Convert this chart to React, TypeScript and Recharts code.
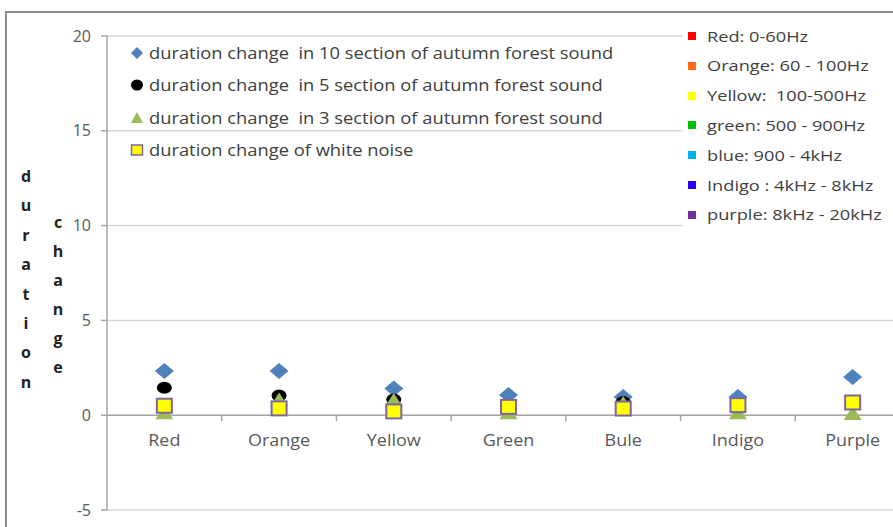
import React from 'react';
import { ScatterChart, Scatter, XAxis, YAxis, CartesianGrid, ReferenceLine, ReferenceDot } from 'recharts';

const categories = ['Red', 'Orange', 'Yellow', 'Green', 'Bule', 'Indigo', 'Purple'];
const tenSection = [2.33, 2.33, 1.41, 1.06, 0.96, 0.96, 2.02];
const fiveSection = [1.45, 1.04, 0.83, 0.5, 0.7, 0.55, 0.6];
const threeSection = [0.15, 0.83, 0.8, 0.15, 0.65, 0.15, 0.12];
const whiteNoise = [0.5, 0.36, 0.2, 0.44, 0.35, 0.53, 0.67];
const yTicks = [-5, 0, 5, 10, 15, 20];

const seriesNames = [
  'duration change  in 10 section of autumn forest sound',
  'duration change  in 5 section of autumn forest sound',
  'duration change  in 3 section of autumn forest sound',
  'duration change of white noise',
];
const bandLabels = [
  'Red: 0-60Hz',
  'Orange: 60 - 100Hz',
  'Yellow:  100-500Hz',
  'green: 500 - 900Hz',
  'blue: 900 - 4kHz',
  'Indigo : 4kHz - 8kHz',
  'purple: 8kHz - 20kHz',
];
const bandColors = ['#FF0000', '#FF6A13', '#FFFF00', '#00C000', '#00B0F0', '#2B00FF', '#7030A0'];
const yTitle1 = 'duration';
const yTitle2 = 'change';

const toPoints = (vals: number[]) => vals.map((y, i) => ({ x: i, y, name: categories[i] }));
const boundaries = categories.slice(1).map((_, i) => i + 0.5);

const FONT = "'Open Sans', sans-serif";

const Diamond = (p: any) => (
  <polygon
    points={`${p.cx},${p.cy - 8} ${p.cx + 9.5},${p.cy} ${p.cx},${p.cy + 8} ${p.cx - 9.5},${p.cy}`}
    fill="#4F81BD"
  />
);
const Dot = (p: any) => <ellipse cx={p.cx} cy={p.cy} rx={7.5} ry={6} fill="#000000" />;
const Tri = (p: any) => (
  <polygon
    points={`${p.cx},${p.cy - 7} ${p.cx + 9},${p.cy + 7} ${p.cx - 9},${p.cy + 7}`}
    fill="#9BBB59"
  />
);
const Sq = (p: any) => (
  <rect x={p.cx - 7.5} y={p.cy - 7} width={15} height={14} fill="#FFFF00" stroke="#8064A2" strokeWidth={2} />
);
const TickMark = (p: any) => <line x1={p.cx} y1={p.cy} x2={p.cx} y2={p.cy + 6} stroke="#a6a6a6" strokeWidth={1.5} />;

const LegendIcon = ({ i }: { i: number }) => (
  <svg width={14} height={14} style={{ display: 'block' }}>
    {i === 0 && <polygon points="7,1 13,7 7,13 1,7" fill="#4F81BD" />}
    {i === 1 && <ellipse cx={7} cy={7} rx={6} ry={5.5} fill="#000" />}
    {i === 2 && <polygon points="7,1 13,12 1,12" fill="#9BBB59" />}
    {i === 3 && <rect x={1.5} y={2} width={11} height={10} fill="#FFFF00" stroke="#8064A2" strokeWidth={1.5} />}
  </svg>
);

export default function App() {
  return (
    <div style={{ position: 'absolute', left: 0, top: 0, width: 893, height: 527, overflow: 'hidden', background: '#fff' }}>
      <ScatterChart width={893} height={527} margin={{ top: 36, right: -17, bottom: 17, left: 47 }}>
        <CartesianGrid vertical={false} stroke="#d9d9d9" strokeWidth={1.5} />
        <XAxis type="number" dataKey="x" domain={[-0.5, 6.5]} hide allowDataOverflow height={0} />
        <YAxis
          type="number"
          dataKey="y"
          domain={[-5, 20]}
          ticks={yTicks}
          interval={0}
          width={60}
          allowDataOverflow
          tick={{ fill: '#595959', fontSize: 16, fontFamily: FONT }}
          tickSize={6}
          tickMargin={10}
          axisLine={{ stroke: '#a6a6a6', strokeWidth: 1.5 }}
          tickLine={{ stroke: '#a6a6a6', strokeWidth: 1.5 }}
        />
        <ReferenceLine y={0} stroke="#a6a6a6" strokeWidth={1.5} />
        {boundaries.map((b) => (
          <ReferenceDot key={'b' + b} x={b} y={0} r={0} shape={TickMark} />
        ))}
        {categories.map((c, i) => (
          <ReferenceDot
            key={'c' + c}
            x={i}
            y={0}
            r={0}
            shape={(p: any) => (
              <text x={p.cx} y={p.cy + 31} textAnchor="middle" fill="#595959" fontSize={17} fontFamily={FONT} transform={`translate(${p.cx} 0) scale(1.06 1) translate(${-p.cx} 0)`}>
                {c}
              </text>
            )}
          />
        ))}
        <Scatter name={seriesNames[0]} data={toPoints(tenSection)} shape={Diamond} isAnimationActive={false} />
        <Scatter name={seriesNames[1]} data={toPoints(fiveSection)} shape={Dot} isAnimationActive={false} />
        <Scatter name={seriesNames[2]} data={toPoints(threeSection)} shape={Tri} isAnimationActive={false} />
        <Scatter name={seriesNames[3]} data={toPoints(whiteNoise)} shape={Sq} isAnimationActive={false} />
      </ScatterChart>

      {/* outer frame */}
      <div style={{ position: 'absolute', left: 5, top: 11, width: 920, height: 540, borderLeft: '2px solid #8c8c8c', borderTop: '2px solid #8c8c8c' }} />

      {/* series legend */}
      <div style={{ position: 'absolute', left: 130, top: 37, fontFamily: FONT, fontSize: 16, color: '#404040' }}>
        {seriesNames.map((n, i) => (
          <div key={n} style={{ display: 'flex', alignItems: 'center', height: 32.3, whiteSpace: 'pre' }}>
            <LegendIcon i={i} />
            <span style={{ marginLeft: 5, display: 'inline-block', transform: 'scaleX(1.145)', transformOrigin: 'left center', lineHeight: '20px' }}>{n}</span>
          </div>
        ))}
      </div>

      {/* frequency band legend */}
      <div style={{ position: 'absolute', left: 683, top: 22, width: 220, height: 210, background: '#fff' }}>
        {bandLabels.map((b, i) => (
          <div key={b} style={{ position: 'absolute', left: 5, top: 6 + i * 29.8, display: 'flex', alignItems: 'center', height: 16, whiteSpace: 'pre', fontFamily: FONT, fontSize: 14, color: '#404040' }}>
            <div style={{ width: 8, height: 8, background: bandColors[i] }} />
            <span style={{ marginLeft: 11, display: 'inline-block', transform: 'scaleX(1.3)', transformOrigin: 'left center' }}>{b}</span>
          </div>
        ))}
      </div>

      {/* y axis title */}
      {yTitle1.split('').map((ch, i) => (
        <div key={'d' + i} style={{ position: 'absolute', left: 17, width: 18, textAlign: 'center', top: 166 + i * 29.4, fontFamily: FONT, fontWeight: 700, fontSize: 16, lineHeight: '20px', color: '#222' }}>{ch}</div>
      ))}
      {yTitle2.split('').map((ch, i) => (
        <div key={'c' + i} style={{ position: 'absolute', left: 49, width: 18, textAlign: 'center', top: 212 + i * 29, fontFamily: FONT, fontWeight: 700, fontSize: 16, lineHeight: '20px', color: '#222' }}>{ch}</div>
      ))}
    </div>
  );
}
